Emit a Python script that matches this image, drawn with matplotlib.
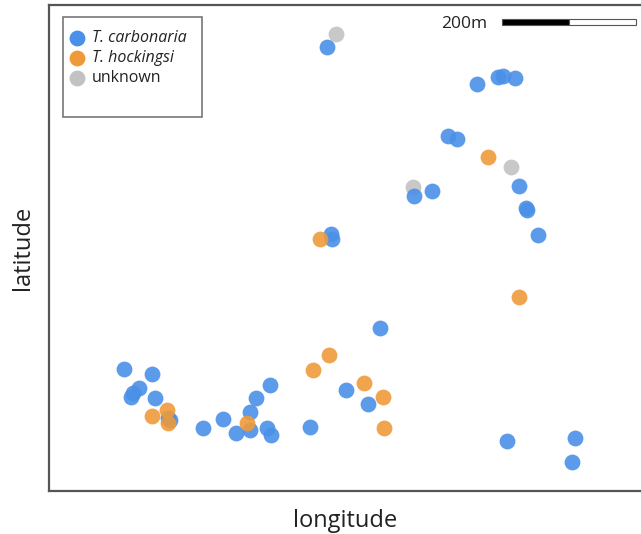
import matplotlib
matplotlib.use("Agg")
import matplotlib.pyplot as plt
from matplotlib.patches import Rectangle

plt.rcParams['font.family'] = ['Open Sans', 'DejaVu Sans']

# positions (x = longitude, y = latitude, screen units)
carb_x = [327, 477, 498, 503, 515, 448, 457, 414, 432, 519, 526, 527, 538, 331, 332,
          380, 124, 152, 131, 139, 133, 155, 168, 170, 203, 223, 236, 250, 256, 270,
          250, 267, 271, 346, 368, 310, 507, 575, 572]
carb_y = [47, 84, 77, 76, 78, 136, 139, 196, 191, 186, 208, 210, 235, 234, 239,
          328, 369, 374, 397, 388, 393, 398, 418, 420, 428, 419, 433, 412, 398, 385,
          430, 428, 435, 390, 404, 427, 441, 438, 462]
hock_x = [488, 519, 320, 329, 313, 364, 383, 384, 152, 167, 168, 247]
hock_y = [157, 297, 239, 355, 370, 383, 397, 428, 416, 410, 423, 423]
unk_x = [336, 511, 413]
unk_y = [34, 167, 187]

c_blue = '#4a90e8'
c_orange = '#ee9a3a'
c_gray = '#c2c2c2'

fig = plt.figure(figsize=(6.41, 5.34), dpi=100)
ax = fig.add_axes([49/641, 43/534, 592/641, 486/534])

ax.scatter(carb_x, carb_y, s=130, color=c_blue, alpha=0.9, linewidths=0, zorder=3)
ax.scatter(hock_x, hock_y, s=130, color=c_orange, alpha=0.9, linewidths=0, zorder=3)
ax.scatter(unk_x, unk_y, s=130, color=c_gray, alpha=0.9, linewidths=0, zorder=2)

ax.set_xlim(49, 641)
ax.set_ylim(491, 5)
ax.set_xticks([])
ax.set_yticks([])
for side in ['left', 'top', 'bottom']:
    ax.spines[side].set_color('#555555')
    ax.spines[side].set_linewidth(1.6)
ax.spines['right'].set_visible(False)

ax.set_xlabel('longitude', fontsize=17, labelpad=13, color='#222222')
ax.set_ylabel('latitude', fontsize=17, labelpad=10, color='#222222')

# legend box drawn by hand (it has extra space at the bottom)
ax.add_patch(Rectangle((63, 17), 139, 100, facecolor='white', edgecolor='#777777',
                       linewidth=1.2, zorder=4))
leg = [('T. carbonaria', c_blue, 'italic'), ('T. hockingsi', c_orange, 'italic'),
       ('unknown', c_gray, 'normal')]
for i, (lab, col, sty) in enumerate(leg):
    yy = 38 + i * 20
    ax.scatter([77], [yy], s=130, color=col, linewidths=0, zorder=5)
    ax.text(92, yy, lab, fontsize=11.5, style=sty, va='center', ha='left',
            color='#222222', zorder=5)

# scale bar
ax.add_patch(Rectangle((502, 19), 67, 6, facecolor='black', edgecolor='#555555',
                       linewidth=0.8, zorder=4))
ax.add_patch(Rectangle((569, 19), 67, 6, facecolor='white', edgecolor='#555555',
                       linewidth=0.8, zorder=4))
ax.text(487, 24, '200m', fontsize=12.5, ha='right', va='center', color='#222222')

fig.savefig('out.png', dpi=100)
